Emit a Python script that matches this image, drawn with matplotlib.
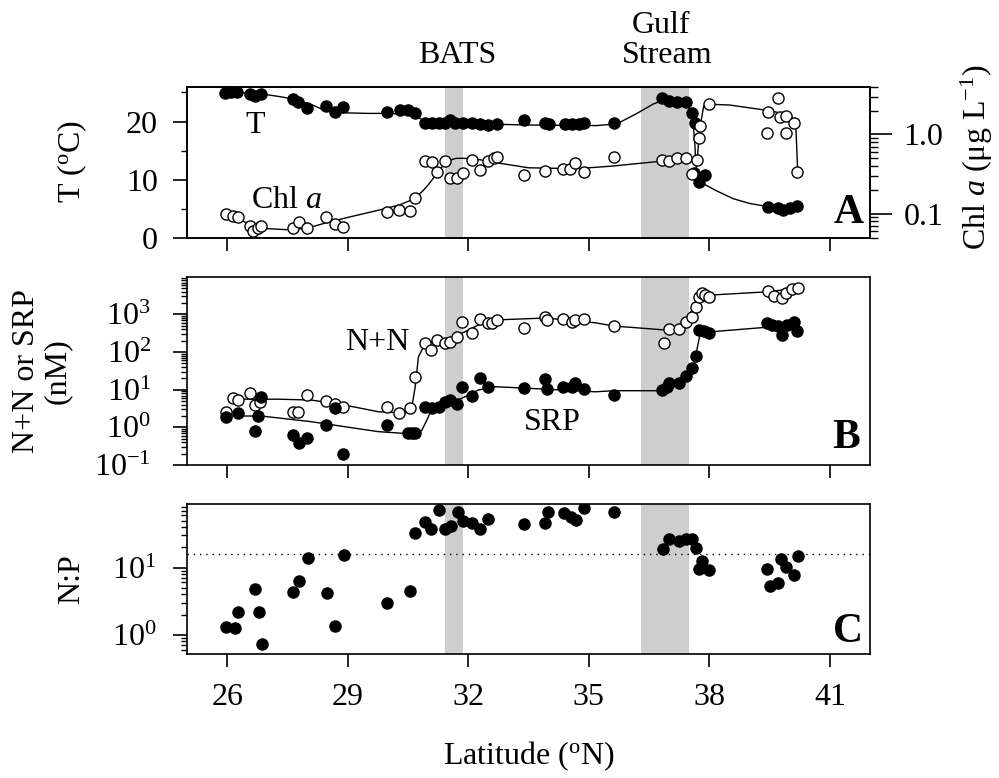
import numpy as np
import matplotlib
matplotlib.use("Agg")
import matplotlib.pyplot as plt
from matplotlib.ticker import FixedLocator, FixedFormatter, LogLocator, NullFormatter, LogFormatterMathtext

plt.rcParams['font.family'] = ['Liberation Serif', 'DejaVu Serif']
plt.rcParams['mathtext.fontset'] = 'custom'
plt.rcParams['mathtext.rm'] = 'Liberation Serif'
plt.rcParams['mathtext.it'] = 'Liberation Serif:italic'
plt.rcParams['mathtext.bf'] = 'Liberation Serif:bold'
plt.rcParams['axes.linewidth'] = 1.2
plt.rcParams['axes.unicode_minus'] = False

# ---- panel A: temperature (filled) and chlorophyll (open)
t_lat = [25.94, 26.10, 26.25, 26.57, 26.69, 26.85, 27.64, 27.77, 27.98, 28.47, 28.68, 28.89,
         29.97, 30.30, 30.51, 30.68, 30.93, 31.09, 31.26, 31.42, 31.55, 31.67, 31.88, 32.09,
         32.30, 32.50, 32.71, 33.38, 33.92, 34.00, 34.42, 34.58, 34.75, 34.87, 35.62, 36.82,
         36.99, 37.20, 37.41, 37.57, 37.65, 37.61, 37.74, 37.90, 39.47, 39.71, 39.84, 40.02, 40.19]
t_val = [24.9, 25.0, 25.0, 24.8, 24.4, 24.8, 23.9, 23.4, 22.3, 22.7, 21.7, 22.5,
         21.6, 21.9, 21.9, 21.4, 19.8, 19.8, 19.8, 19.8, 20.2, 19.8, 19.7, 19.8,
         19.6, 19.4, 19.6, 20.3, 19.7, 19.6, 19.6, 19.6, 19.6, 19.7, 19.8, 24.0,
         23.6, 23.4, 23.3, 21.4, 19.7, 11.1, 9.6, 10.8, 5.3, 5.1, 4.7, 5.1, 5.5]
t_fit_lat = [26.0, 26.5, 27.0, 27.3, 27.7, 28.1, 28.4, 28.9, 29.5, 30.0, 30.6, 30.8, 31.0,
             31.5, 32.2, 33.5, 35.2, 35.7, 36.2, 36.6, 36.9, 37.2, 37.4, 37.52, 37.6, 37.64,
             37.67, 37.70, 37.76, 37.9, 38.2, 38.6, 39.0, 39.5, 40.2]
t_fit = [25.0, 24.9, 24.6, 24.3, 23.8, 22.9, 22.0, 21.5, 21.4, 21.4, 21.2, 20.5, 19.9,
         19.7, 19.6, 19.4, 19.3, 19.6, 21.4, 23.0, 23.8, 23.6, 23.3, 22.0, 19.5, 16.0,
         12.5, 10.8, 9.8, 9.1, 8.0, 6.7, 5.9, 5.3, 5.4]

chl_lat = [25.98, 26.14, 26.27, 26.57, 26.65, 26.77, 26.85, 27.64, 27.78, 27.98, 28.47, 28.68,
           28.89, 29.97, 30.28, 30.55, 30.68, 30.93, 31.09, 31.23, 31.42, 31.55, 31.71, 31.88,
           32.09, 32.30, 32.50, 32.63, 32.71, 33.38, 33.92, 34.37, 34.54, 34.66, 34.87, 35.62,
           36.82, 36.99, 37.20, 37.41, 37.57, 37.70, 37.74, 37.78, 37.99, 39.44, 39.47, 39.71,
           39.77, 39.90, 39.90, 40.10, 40.19]
chl_val = [0.100, 0.095, 0.092, 0.071, 0.060, 0.066, 0.071, 0.066, 0.078, 0.066, 0.090, 0.074,
           0.069, 0.104, 0.112, 0.109, 0.157, 0.46, 0.45, 0.34, 0.46, 0.28, 0.28, 0.33,
           0.48, 0.36, 0.46, 0.50, 0.52, 0.31, 0.35, 0.37, 0.37, 0.44, 0.34, 0.52,
           0.47, 0.46, 0.50, 0.50, 0.32, 0.47, 0.91, 1.27, 2.4, 1.05, 1.93, 2.86,
           1.66, 1.71, 1.05, 1.40, 0.34]
chl_fit_lat = [26.0, 26.3, 26.6, 27.0, 27.5, 28.0, 28.5, 29.0, 29.8, 30.3, 30.6, 30.85, 31.0,
               31.15, 31.3, 31.45, 31.7, 32.1, 32.7, 33.5, 34.7, 35.6, 36.8, 37.4, 37.6, 37.70,
               37.74, 37.78, 37.86, 37.99, 38.5, 39.48, 39.8, 40.06, 40.15, 40.20]
chl_fit = [0.100, 0.085, 0.072, 0.065, 0.063, 0.066, 0.078, 0.090, 0.112, 0.130, 0.150, 0.19, 0.23,
           0.29, 0.36, 0.46, 0.50, 0.50, 0.44, 0.38, 0.37, 0.40, 0.46, 0.50, 0.47, 0.47,
           0.90, 1.34, 2.28, 2.40, 2.35, 2.0, 1.85, 1.62, 1.40, 0.34]

# ---- panel B: nitrate+nitrite (open) and SRP (filled), nM
nn_lat = [25.98, 26.15, 26.27, 26.57, 26.69, 26.81, 27.64, 27.77, 27.98, 28.47, 28.68, 28.89,
          29.97, 30.28, 30.55, 30.68, 30.93, 31.08, 31.22, 31.43, 31.55, 31.71, 31.84, 32.09,
          32.30, 32.50, 32.59, 32.71, 33.38, 33.92, 33.96, 34.37, 34.58, 34.66, 34.87, 35.62,
          36.86, 36.99, 37.24, 37.41, 37.57, 37.66, 37.74, 37.82, 37.90, 37.99, 39.45, 39.60,
          39.80, 39.90, 40.05, 40.20]
nn_val = [2.6, 5.9, 5.3, 8.0, 3.9, 4.8, 2.6, 2.6, 7.2, 5.1, 4.3, 3.5,
          3.4, 2.4, 3.2, 22, 171, 113, 208, 177, 188, 255, 638, 326,
          740, 580, 580, 708, 427, 867, 708, 740, 640, 708, 740, 491,
          177, 402, 402, 638, 867, 1600, 2940, 3620, 3270, 2940, 4200, 3000,
          2800, 3600, 4600, 5000]
nn_fit_lat = [26.15, 27.27, 28.10, 28.93, 29.76, 30.43, 30.59, 30.68, 30.76, 30.93, 31.43, 31.84,
              32.25, 32.67, 33.08, 33.92, 35.16, 35.62, 36.91, 37.24, 37.41, 37.61, 37.74, 37.90,
              39.48, 40.20]
nn_fit = [5.6, 5.6, 5.3, 3.9, 2.6, 2.4, 3.2, 12, 75, 171, 208, 315,
          520, 708, 740, 800, 600, 491, 385, 402, 638, 1600, 2940, 3200,
          4000, 5000]

srp_lat = [25.98, 26.27, 26.69, 26.77, 26.85, 27.64, 27.79, 27.98, 28.47, 28.68, 28.89, 29.97,
           30.51, 30.59, 30.68, 30.93, 31.10, 31.27, 31.43, 31.55, 31.71, 31.84, 32.09, 32.30,
           32.50, 33.38, 33.92, 33.96, 34.37, 34.58, 34.66, 34.87, 35.62, 36.82, 36.95, 36.99,
           37.24, 37.41, 37.57, 37.66, 37.74, 37.86, 37.99, 39.44, 39.56, 39.72, 39.81, 39.94,
           40.10, 40.19]
srp_val = [1.9, 2.4, 0.8, 2.0, 6.5, 0.63, 0.38, 0.51, 1.15, 3.2, 0.2, 1.15,
           0.69, 0.69, 0.69, 3.5, 3.2, 3.5, 4.8, 5.3, 4.1, 12, 6.8, 20,
           12, 10.9, 18.8, 10.2, 11.5, 12.0, 15.3, 10.2, 7.2, 9.8, 12, 14.8,
           15.3, 23, 37, 78, 385, 368, 314, 580, 520, 490, 283, 520,
           638, 368]
srp_fit_lat = [25.98, 26.85, 28.10, 28.93, 29.76, 30.59, 30.84, 30.97, 31.10, 31.43, 31.84, 32.25,
               32.67, 33.50, 34.33, 35.16, 35.62, 36.82, 36.99, 37.41, 37.61, 37.69, 37.78, 37.90,
               38.07, 39.40, 40.19]
srp_fit = [2.0, 2.0, 1.41, 1.04, 0.77, 0.67, 0.82, 1.57, 3.2, 4.3, 5.9, 9.8,
           12, 10.9, 9.8, 8.8, 9.4, 9.4, 14.8, 23, 45, 113, 347, 350,
           347, 453, 470]

# ---- panel C: N:P ratio
np_lat = [25.98, 26.19, 26.27, 26.69, 26.79, 26.87, 27.64, 27.79, 28.00, 28.48, 28.68, 28.91,
          29.97, 30.55, 30.68, 30.93, 31.07, 31.26, 31.43, 31.57, 31.74, 31.86, 32.09, 32.30,
          32.50, 33.38, 33.92, 33.98, 34.39, 34.56, 34.68, 34.87, 35.62, 36.84, 36.99, 37.24,
          37.41, 37.57, 37.67, 37.82, 37.74, 37.99, 39.44, 39.50, 39.72, 39.79, 39.90, 40.10,
          40.20]
np_val = [1.33, 1.26, 2.15, 4.8, 2.15, 0.73, 4.3, 6.4, 14.1, 4.25, 1.36, 15.4,
          2.96, 4.5, 32.4, 48, 37.6, 72, 37, 41.7, 68, 49, 46.7, 37.6,
          52, 44, 45.7, 66.5, 64, 57, 51, 76, 68, 18.8, 26.4, 24.4,
          26.4, 26.4, 19.8, 12.6, 9.6, 9.2, 9.6, 5.4, 5.9, 13.5, 10.1, 7.8,
          14.9]
redfield = 16

bats = (31.42, 31.88)
gulf = (36.30, 37.50)
lat_ticks = [26, 29, 32, 35, 38, 41]
shade = '#cecece'
fs = 23

fig = plt.figure(figsize=(9.99, 7.78), dpi=100)
axA = fig.add_axes([0.1872, 0.6945, 0.6837, 0.1941])
axB = fig.add_axes([0.1872, 0.4023, 0.6837, 0.2420])
axC = fig.add_axes([0.1872, 0.1594, 0.6837, 0.1928])

for ax in (axA, axB, axC):
    ax.axvspan(*bats, color=shade, lw=0, zorder=0)
    ax.axvspan(*gulf, color=shade, lw=0, zorder=0)
    ax.set_xlim(25, 42)
    ax.xaxis.set_major_locator(FixedLocator(lat_ticks))
    ax.tick_params(axis='x', direction='out', length=9, width=1.2, pad=12, labelsize=fs, top=False)
    ax.tick_params(axis='y', which='major', direction='out', length=10, width=1.2, labelsize=fs)
    ax.tick_params(axis='y', which='minor', direction='out', length=4.5, width=1.0)
axA.tick_params(labelbottom=False)
axB.tick_params(labelbottom=False)
axC.set_xticklabels([str(v) for v in lat_ticks])

mk_fill = dict(ls='none', marker='o', ms=8, mfc='black', mec='black', zorder=4)
mk_open = dict(ls='none', marker='o', ms=8, mfc='white', mec='black', mew=1.0, zorder=3)

# panel A
axA.plot(t_fit_lat, t_fit, color='black', lw=1.0, zorder=2)
axA.plot(t_lat, t_val, **mk_fill)
axA.set_ylim(0, 26)
axA.yaxis.set_major_locator(FixedLocator([0, 10, 20]))
axA.yaxis.set_minor_locator(FixedLocator([5, 15, 25]))
axA.tick_params(axis='y', pad=11)

axAr = axA.twinx()
axAr.set_yscale('log')
axAr.plot(chl_fit_lat, chl_fit, color='black', lw=1.0, zorder=2)
axAr.plot(chl_lat, chl_val, **mk_open)
axAr.set_ylim(0.05, 4)
axAr.set_xlim(25, 42)
axAr.yaxis.set_major_locator(FixedLocator([0.1, 1.0]))
axAr.yaxis.set_major_formatter(FixedFormatter(['0.1', '1.0']))
axAr.yaxis.set_minor_locator(LogLocator(base=10, subs=np.arange(2, 10), numticks=20))
axAr.yaxis.set_minor_formatter(NullFormatter())
axAr.tick_params(axis='y', which='major', direction='out', length=16, width=1.2, pad=8, labelsize=fs)
axAr.tick_params(axis='y', which='minor', direction='out', length=6, width=1.0)

axA.text(26.70, 18.05, 'T', fontsize=fs, ha='center', va='baseline')
axA.text(27.48, 5.1, 'Chl $a$', fontsize=fs, ha='center', va='baseline')
axA.text(0.99, 0.0975, 'A', transform=axA.transAxes, fontsize=30, fontweight='bold',
         ha='right', va='baseline', zorder=6)

# panel B
axB.set_yscale('log')
axB.plot(nn_fit_lat, nn_fit, color='black', lw=1.0, zorder=2)
axB.plot(srp_fit_lat, srp_fit, color='black', lw=1.0, zorder=2)
axB.plot(nn_lat, nn_val, **mk_open)
axB.plot(srp_lat, srp_val, **mk_fill)
axB.set_ylim(0.1, 1e4)
axB.yaxis.set_major_locator(FixedLocator([0.1, 1, 10, 100, 1000]))
axB.yaxis.set_major_formatter(LogFormatterMathtext())
axB.yaxis.set_minor_locator(LogLocator(base=10, subs=np.arange(2, 10), numticks=20))
axB.yaxis.set_minor_formatter(NullFormatter())
axB.tick_params(axis='y', pad=16)
axB.text(29.74, 113, 'N+N', fontsize=fs, ha='center', va='baseline')
axB.text(34.10, 0.85, 'SRP', fontsize=fs, ha='center', va='baseline')
axB.text(0.985, 0.09, 'B', transform=axB.transAxes, fontsize=30, fontweight='bold',
         ha='right', va='baseline')

# panel C
axC.set_yscale('log')
axC.axhline(redfield, color='black', ls=(0, (1, 3.5)), lw=1.0, zorder=1)
axC.plot(np_lat, np_val, **mk_fill)
axC.set_ylim(0.52, 88)
axC.yaxis.set_major_locator(FixedLocator([1, 10]))
axC.yaxis.set_major_formatter(LogFormatterMathtext())
axC.yaxis.set_minor_locator(LogLocator(base=10, subs=np.arange(2, 10), numticks=20))
axC.yaxis.set_minor_formatter(NullFormatter())
axC.tick_params(axis='y', pad=12)
axC.text(0.99, 0.08, 'C', transform=axC.transAxes, fontsize=30, fontweight='bold',
         ha='right', va='baseline')

# labels
fig.text(0.072, 0.792, 'T ($^{\\mathrm{o}}$C)', fontsize=fs, rotation=90, ha='center', va='center')
fig.text(0.042, 0.5233, 'N+N or SRP\n(nM)', fontsize=fs, rotation=90, ha='center', va='center',
         multialignment='center', linespacing=1.05)
fig.text(0.072, 0.2558, 'N:P', fontsize=fs, rotation=90, ha='center', va='center')
fig.text(0.978, 0.798, 'Chl $a$ (\u03bcg L$^{-1}$)', fontsize=fs, rotation=90, ha='center', va='center')
fig.text(0.529, 0.018, 'Latitude ($^{\\mathrm{o}}$N)', fontsize=fs, ha='center', va='baseline')
fig.text(457 / 999, 1 - 63 / 778, 'BATS', fontsize=fs, ha='center', va='baseline')
fig.text(661 / 999, 1 - 33 / 778, 'Gulf', fontsize=fs, ha='center', va='baseline')
fig.text(667 / 999, 1 - 63 / 778, 'Stream', fontsize=fs, ha='center', va='baseline')

fig.savefig('out.png', dpi=100)
